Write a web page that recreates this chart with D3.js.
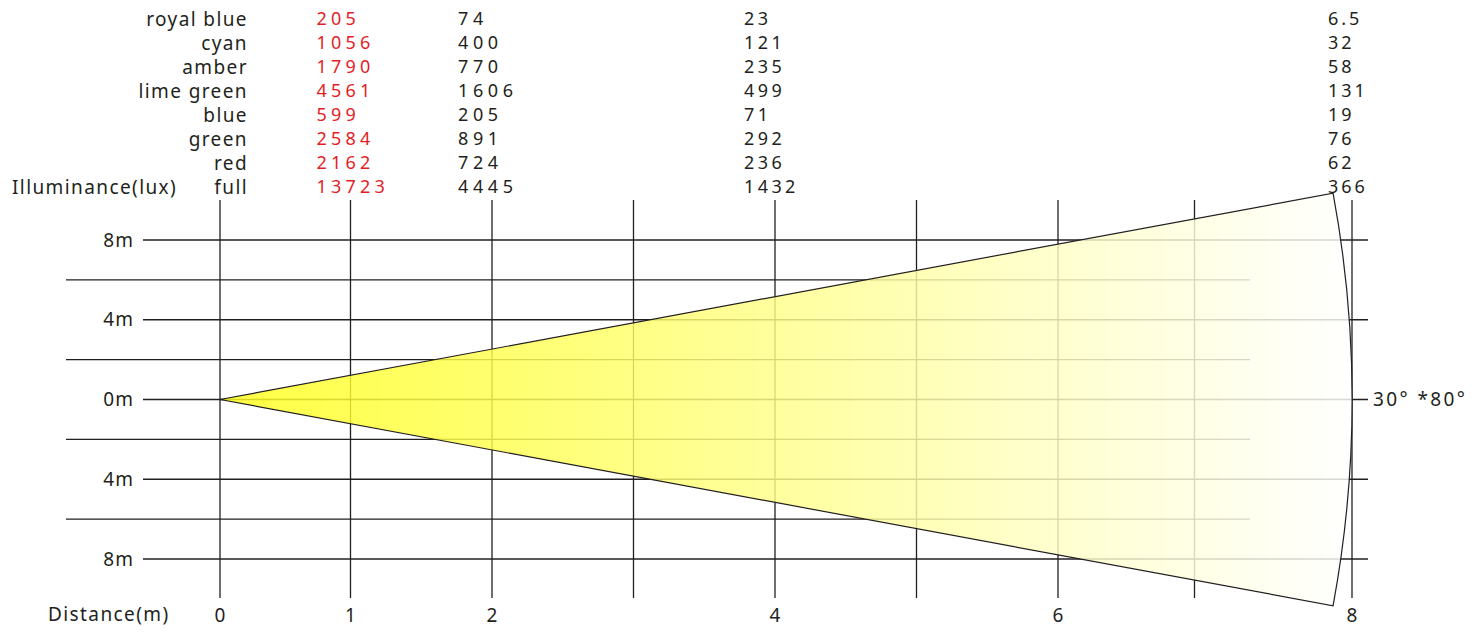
<!DOCTYPE html>
<html>
<head>
<meta charset="utf-8">
<script src="https://cdn.jsdelivr.net/npm/d3@7"></script>
<style>
  html, body { margin: 0; padding: 0; background: #fff; }
  svg { display: block; }
  text { font-family: "Noto Sans", "Open Sans", sans-serif; fill: #231f20; }
</style>
</head>
<body>
<svg id="chart" width="1474" height="632"></svg>
<script>
// ---------- data ----------
const colorNames = ["royal blue", "cyan", "amber", "lime green", "blue", "green", "red", "full"];
const distances = [1, 2, 4, 8];
const lux1m = [205, 1056, 1790, 4561, 599, 2584, 2162, 13723];
const lux2m = [74, 400, 770, 1606, 205, 891, 724, 4445];
const lux4m = [23, 121, 235, 499, 71, 292, 236, 1432];
const lux8m = [6.5, 32, 58, 131, 19, 76, 62, 366];
const luxColumns = [lux1m, lux2m, lux4m, lux8m];
const distanceGrid = [0, 1, 2, 3, 4, 5, 6, 7, 8];
const distanceTickLabels = [0, 1, 2, 4, 6, 8];
const widthMajor = [8, 4, 0, -4, -8];
const widthMinor = [6, 2, -2, -6];
const widthLabels = ["8m", "4m", "0m", "4m", "8m"];
const beamLabel = "30° *80°";
const beamHalfAngleDeg = 10.5;   // drawn half-angle of the cone

// ---------- scales ----------
const svg = d3.select("#chart");
const ink = "#231f20";
const redInk = "#e31e26";

const x = d3.scaleLinear().domain([0, 1, 6, 7, 8]).range([220, 350.5, 1058, 1194.5, 1352]);
const y = d3.scaleLinear().domain([8, -8]).range([240, 559]);
const rowY = d3.scalePoint().domain(colorNames).range([19, 187]);

// ---------- grid ----------
const grid = svg.append("g");
grid.selectAll("line.vx").data(distanceGrid).join("line")
  .attr("x1", d => x(d)).attr("x2", d => x(d))
  .attr("y1", 200).attr("y2", 598)
  .attr("stroke", ink).attr("stroke-width", 1.3);
grid.selectAll("line.hmaj").data(widthMajor).join("line")
  .attr("x1", 143).attr("x2", 1368)
  .attr("y1", d => y(d)).attr("y2", d => y(d))
  .attr("stroke", ink).attr("stroke-width", 1.3);
grid.selectAll("line.hmin").data(widthMinor).join("line")
  .attr("x1", 66).attr("x2", 1250)
  .attr("y1", d => y(d)).attr("y2", d => y(d))
  .attr("stroke", ink).attr("stroke-width", 1.3);

// ---------- beam ----------
const defs = svg.append("defs");
const cx = x(0), cy = y(0), R = x(8) - x(0);
const ang = beamHalfAngleDeg * Math.PI / 180;
const beamTop = [cx + R * Math.cos(ang), cy - R * Math.sin(ang)];
const beamBot = [cx + R * Math.cos(ang), cy + R * Math.sin(ang)];
const grad = defs.append("linearGradient").attr("id", "beamGrad")
  .attr("gradientUnits", "userSpaceOnUse")
  .attr("x1", cx).attr("y1", 0).attr("x2", x(8)).attr("y2", 0);
grad.append("stop").attr("offset", 0).attr("stop-color", "#ffff1a");
grad.append("stop").attr("offset", 0.35).attr("stop-color", "#ffff66");
grad.append("stop").attr("offset", 0.7).attr("stop-color", "#ffffbc");
grad.append("stop").attr("offset", 1).attr("stop-color", "#ffffff");

const beamPath = `M${cx},${cy} L${beamTop[0]},${beamTop[1]} A${R},${R} 0 0 1 ${beamBot[0]},${beamBot[1]} Z`;
svg.append("path").attr("d", beamPath)
  .attr("fill", "url(#beamGrad)").attr("fill-opacity", 0.82).attr("stroke", "none");
svg.append("path").attr("d", beamPath)
  .attr("fill", "none").attr("stroke", ink).attr("stroke-width", 1.2).attr("stroke-linejoin", "miter");

// ---------- labels ----------
const fs = 19;
const ls = 1.4;
svg.append("g").selectAll("text").data(colorNames).join("text")
  .attr("x", 248).attr("y", d => rowY(d)).attr("dy", "0.35em")
  .attr("text-anchor", "end").attr("font-size", fs).attr("letter-spacing", ls)
  .text(d => d);

svg.append("text").attr("x", 12).attr("y", rowY("full")).attr("dy", "0.35em")
  .attr("font-size", fs).attr("letter-spacing", ls).text("Illuminance(lux)");

const colSpacing = [4.2, 4.6, 3.4, 3.0];
const colShift = [-34, -34, -31, -24];
luxColumns.forEach((col, ci) => {
  const d = distances[ci];
  svg.append("g").selectAll("text").data(col).join("text")
    .attr("x", x(d) + colShift[ci]).attr("y", (v, i) => rowY(colorNames[i])).attr("dy", "0.35em")
    .attr("font-size", 18).attr("letter-spacing", colSpacing[ci])
    .style("fill", ci === 0 ? redInk : ink)
    .text(v => v);
});

svg.append("g").selectAll("text").data(widthMajor).join("text")
  .attr("x", 134).attr("y", d => y(d)).attr("dy", "0.35em")
  .attr("text-anchor", "end").attr("font-size", fs).attr("letter-spacing", 1)
  .text((d, i) => widthLabels[i]);

svg.append("g").selectAll("text").data(distanceTickLabels).join("text")
  .attr("x", d => x(d)).attr("y", 615).attr("dy", "0.35em")
  .attr("text-anchor", "middle").attr("font-size", fs)
  .text(d => d);

svg.append("text").attr("x", 48).attr("y", 614).attr("dy", "0.35em")
  .attr("font-size", fs).attr("letter-spacing", ls).text("Distance(m)");

svg.append("text").attr("x", 1373).attr("y", y(0)).attr("dy", "0.35em")
  .attr("font-size", fs).attr("letter-spacing", 2.4).text(beamLabel);
</script>
</body>
</html>
